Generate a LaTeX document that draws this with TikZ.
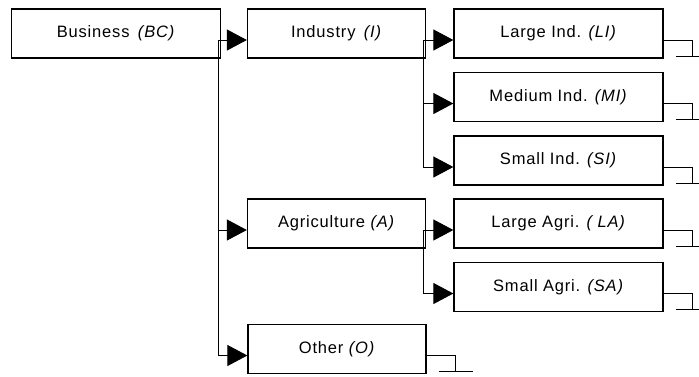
\documentclass[tikz,border=0pt]{standalone}
\usepackage{fontspec}
\setmainfont{Liberation Sans}[LetterSpace=5]
\usetikzlibrary{arrows.meta}

\begin{document}
\begin{tikzpicture}[x=1pt, y=-1pt,
    every node/.style={font=\fontsize{16.5}{19}\selectfont},
    box/.style={draw, line width=1.3pt, minimum height=49pt, inner sep=0pt},
    wide/.style={box, minimum width=209pt},
    narrow/.style={box, minimum width=178pt},
    link/.style={line width=1pt},
    tip/.style={link, -{Triangle[length=20pt, width=21pt]}}]
  \useasboundingbox (0,0) rectangle (699,376);
  % level 0 and 1
  \node[wide]   (BC) at (116,33.5)   {Business\hspace{3pt} \textit{(BC)}};
  \node[narrow] (I)  at (336.5,33.5) {Industry\hspace{3pt} \textit{(I)}};
  \node[narrow] (A)  at (336.5,223.5) {Agriculture \textit{(A)}};
  \node[narrow] (O)  at (337,349)    {Other \textit{(O)}};
  % level 2
  \node[wide] (LI) at (558.5,33.5)  {Large Ind. \textit{(LI)}};
  \node[wide] (MI) at (558.5,97)    {Medium Ind. \textit{(MI)}};
  \node[wide] (SI) at (558.5,160.5) {Small Ind. \textit{(SI)}};
  \node[wide] (LA) at (558.5,223.5) {Large Agri. \textit{( LA)}};
  \node[wide] (SA) at (558.5,287)   {Small Agri. \textit{(SA)}};

  \foreach \c in {I,A,O}
    \draw[tip] ([xshift=-2.5pt,yshift=-6.5pt]BC.east) |- ([yshift=-6.5pt]\c.west);
  \foreach \c in {LI,MI,SI}
    \draw[tip] ([xshift=-2.5pt,yshift=-6.5pt]I.east) |- ([yshift=-6.5pt]\c.west);
  \foreach \c in {LA,SA}
    \draw[tip] ([xshift=-2.5pt,yshift=-6.5pt]A.east) |- ([yshift=-6.5pt]\c.west);

  % open ends
  \foreach \c in {LI,MI,SI,LA,SA,O}
    \draw[link] ([xshift=-2pt,yshift=-6.5pt]\c.east) -- ++(31,0) -- ++(0,16) ++(-17,0) -- ++(34,0);
\end{tikzpicture}
\end{document}
